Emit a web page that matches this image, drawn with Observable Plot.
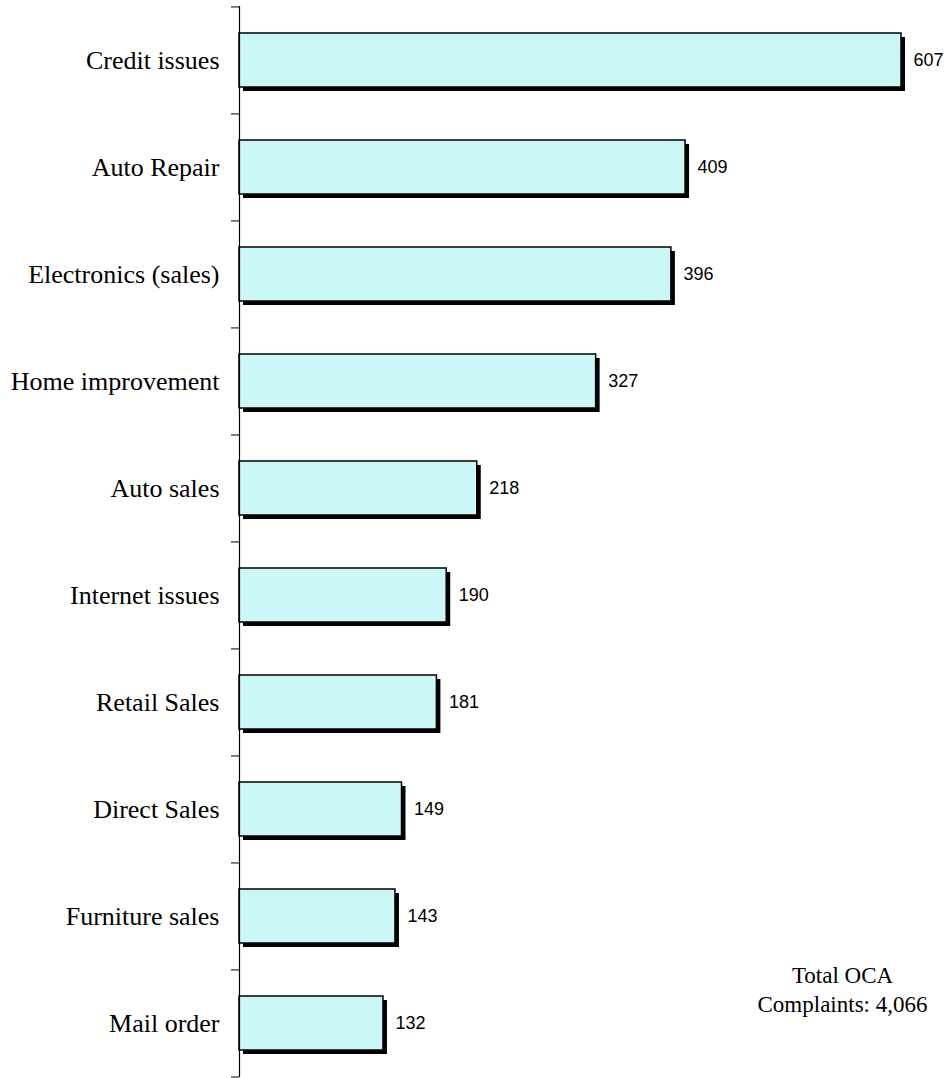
<!DOCTYPE html>
<html>
<head>
<meta charset="utf-8">
<script src="https://cdn.jsdelivr.net/npm/d3@7"></script>
<script src="https://cdn.jsdelivr.net/npm/@observablehq/plot@0.6"></script>
<style>
  html, body { margin: 0; padding: 0; background: #fff; }
  #chart svg { display: block; overflow: visible; }
</style>
</head>
<body>
<div id="chart"></div>
<script>
const categories = ["Credit issues", "Auto Repair", "Electronics (sales)", "Home improvement", "Auto sales", "Internet issues", "Retail Sales", "Direct Sales", "Furniture sales", "Mail order"];
const counts = [607, 409, 396, 327, 218, 190, 181, 149, 143, 132];
const totalNote = "Total OCA\nComplaints: 4,066";

const data = categories.map((c, i) => ({category: c, count: counts[i]}));

const W = 947, H = 1078, mTop = 6, mBottom = 1, mLeft = 239, mRight = 46;
const step = (H - mTop - mBottom) / categories.length;

const serif = "'Liberation Serif', 'Times New Roman', serif";
const sans = "'Liberation Sans', Arial, sans-serif";

const chart = Plot.plot({
  width: W,
  height: H,
  marginTop: mTop,
  marginBottom: mBottom,
  marginLeft: mLeft,
  marginRight: mRight,
  style: {background: "#fff", color: "#000"},
  x: {domain: [0, 607], axis: null},
  y: {domain: categories, paddingInner: 0.5, paddingOuter: 0.25, axis: null},
  marks: [
    // shadow
    Plot.barX(data, {x: "count", y: "category", fill: "#000", dx: 4, dy: 4}),
    // bar
    Plot.barX(data, {x: "count", y: "category", fill: "#ccf7f7", stroke: "#000", strokeWidth: 1.5}),
    // axis line
    Plot.ruleX([0], {stroke: "#000", strokeWidth: 1.2}),
    // tick marks at band boundaries
    Plot.ruleY(categories, {y: d => d, x1: 0, x2: 0, insetLeft: -8, dy: -step / 2, stroke: "#000"}),
    Plot.ruleY(categories.slice(-1), {y: d => d, x1: 0, x2: 0, insetLeft: -8, dy: step / 2, stroke: "#000"}),
    // category labels
    Plot.axisY({tickSize: 0, tickPadding: 20, fontSize: 26, fontFamily: serif, label: null, fill: "#000"}),
    // value labels
    Plot.text(data, {x: "count", y: "category", text: d => String(d.count), textAnchor: "start", dx: 12, fontSize: 18, fontFamily: sans, fill: "#000"}),
    // total note
    Plot.text([totalNote], {frameAnchor: "bottom-right", text: d => d, textAnchor: "middle", lineAnchor: "bottom", lineHeight: 1.22, dx: -59, dy: -66, fontSize: 23, fontFamily: serif, fill: "#000"})
  ]
});

document.getElementById("chart").appendChild(chart);
</script>
</body>
</html>
